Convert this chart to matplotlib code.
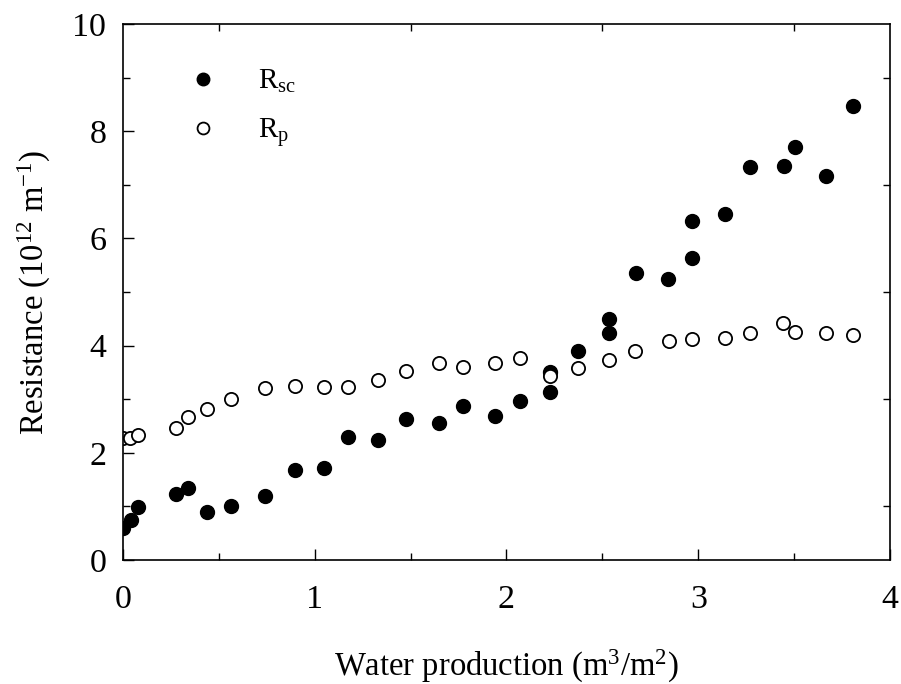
import numpy as np
import matplotlib
matplotlib.use('Agg')
import matplotlib.pyplot as plt

plt.rcParams['font.family'] = ['Liberation Serif', 'DejaVu Serif']
plt.rcParams['mathtext.fontset'] = 'custom'
plt.rcParams['mathtext.rm'] = 'Liberation Serif'
plt.rcParams['mathtext.it'] = 'Liberation Serif'

# Data
x_sc = [0.0, 0.04, 0.08, 0.277, 0.338, 0.437, 0.564, 0.738, 0.898, 1.046,
        1.171, 1.331, 1.475, 1.646, 1.773, 1.94, 2.072, 2.229, 2.229, 2.373,
        2.533, 2.533, 2.677, 2.842, 2.968, 2.968, 3.138, 3.272, 3.446, 3.504,
        3.664, 3.808]
r_sc = [0.59, 0.75, 0.99, 1.23, 1.34, 0.90, 1.01, 1.20, 1.68, 1.71,
        2.30, 2.24, 2.63, 2.55, 2.88, 2.69, 2.97, 3.13, 3.51, 3.89,
        4.23, 4.50, 5.36, 5.24, 5.64, 6.32, 6.46, 7.33, 7.36, 7.71,
        7.16, 8.47]

x_p = [0.0, 0.037, 0.08, 0.277, 0.338, 0.437, 0.564, 0.738, 0.898, 1.046,
       1.171, 1.331, 1.475, 1.646, 1.773, 1.94, 2.072, 2.229, 2.373, 2.537,
       2.672, 2.846, 2.968, 3.142, 3.272, 3.443, 3.502, 3.664, 3.808]
r_p = [2.28, 2.28, 2.33, 2.47, 2.66, 2.81, 3.00, 3.20, 3.25, 3.23,
       3.23, 3.35, 3.53, 3.67, 3.60, 3.68, 3.76, 3.43, 3.58, 3.74,
       3.89, 4.09, 4.12, 4.14, 4.23, 4.42, 4.25, 4.24, 4.20]

fig = plt.figure(figsize=(9.01, 6.84), dpi=100)
ax = fig.add_axes([0.1365, 0.1813, 0.8513, 0.7836])

ax.plot(x_sc, r_sc, 'o', color='black', markersize=10, linestyle='none',
        label=r'R$_{\mathrm{sc}}$')
ax.plot(x_p, r_p, 'o', markerfacecolor='white', markeredgecolor='black',
        markeredgewidth=1.3, markersize=9.5, linestyle='none',
        label=r'R$_{\mathrm{p}}$')

ax.set_xlim(0, 4)
ax.set_ylim(0, 10)
ax.set_xticks([0, 1, 2, 3, 4])
ax.set_xticks(np.arange(0.5, 4, 1.0), minor=True)
ax.set_yticks([0, 2, 4, 6, 8, 10])
ax.set_yticks(np.arange(1, 10, 2), minor=True)

ax.tick_params(which='both', direction='in', labelsize=24.5, width=1.0)
ax.tick_params(which='major', length=8, top=False, right=False)
ax.tick_params(which='minor', length=5, top=True, right=True)
ax.tick_params(axis='x', which='major', pad=18)
ax.tick_params(axis='y', which='major', pad=12)
for s in ax.spines.values():
    s.set_linewidth(1.2)

ax.set_xlabel(r'Water production (m$^3$/m$^2$)', fontsize=23.5, labelpad=23)
ax.set_ylabel(r'Resistance (10$^{12}$ m$^{-1}$)', fontsize=23.5, labelpad=14)

ax.legend(loc='upper left', bbox_to_anchor=(0.051, 0.94), frameon=False,
          fontsize=21, markerscale=0.9, handletextpad=0.88, labelspacing=0.73,
          borderaxespad=0)

fig.savefig('out.png', dpi=100)
